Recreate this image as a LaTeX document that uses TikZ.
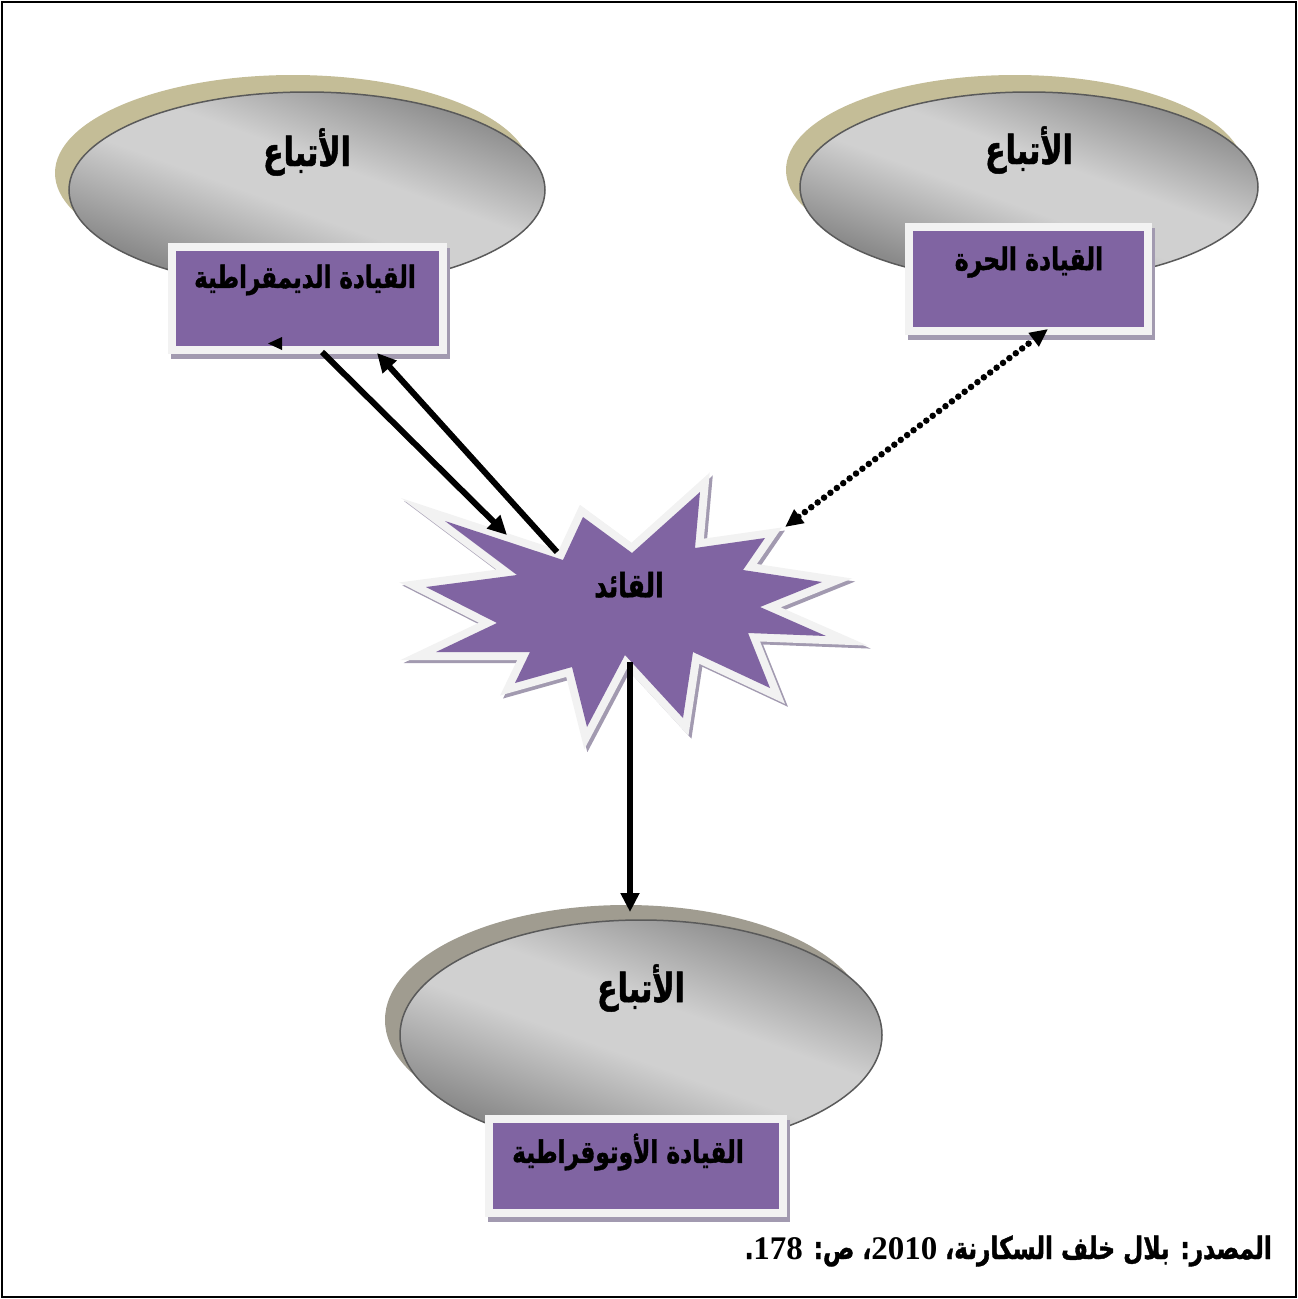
\documentclass[tikz,border=0pt]{standalone}
\usepackage{fontspec}
\newfontfamily\arabicfont[Script=Arabic, FakeStretch=0.75, BoldFeatures={FakeBold=1.2}]{DejaVu Sans}
\newfontfamily\numfont{Liberation Serif}
\TeXXeTstate=1
\usetikzlibrary{arrows.meta,shapes.geometric,shadows}

\definecolor{violetfill}{HTML}{8064A2}
\definecolor{framewhite}{HTML}{F2F2F2}
\definecolor{boxshade}{HTML}{A29AB0}
\definecolor{tanshade}{HTML}{C4BD97}
\definecolor{greyshade}{HTML}{A09C90}
\definecolor{discdark}{HTML}{8A8A8A}
\definecolor{disclight}{HTML}{D0D0D0}
\definecolor{discline}{HTML}{5A5A5A}

% grey sheen used on the follower discs
\pgfdeclareverticalshading{discsheen}{100bp}{%
  color(0bp)=(discdark); color(28bp)=(discdark); color(46bp)=(disclight);
  color(56bp)=(disclight); color(74bp)=(discdark); color(100bp)=(discdark)}

\tikzset{
  disc/.style={ellipse, inner sep=0pt, draw=discline, line width=1.5pt,
    shading=discsheen, shading angle=-20},
  tanshadow/.style={general shadow={fill=tanshade, shadow xshift=-14pt, shadow yshift=17pt}},
  greyshadow/.style={general shadow={fill=greyshade, shadow xshift=-15pt, shadow yshift=15pt}},
  stylebox/.style={rectangle, inner sep=0pt, fill=violetfill, draw=framewhite,
    line width=8pt,
    general shadow={fill=boxshade, draw=boxshade, line width=8pt,
      shadow xshift=3pt, shadow yshift=-5pt}},
  arfont/.style={inner sep=0pt, font=\arabicfont\bfseries\fontsize{#1}{#1}\selectfont},
  link/.style={line width=6pt, -{Triangle[length=19pt,width=18pt]}},
  dotlink/.style={line width=6.5pt, line cap=round, dash pattern=on 0pt off 8pt,
    {Triangle[length=18pt,width=16pt]}-{Triangle[length=18pt,width=16pt]}},
}

% outline of the leader burst
\def\burst{(700,492) -- (695,548) -- (765,538) -- (743,570) -- (822,582) --
  (760,607) -- (826,636) -- (748,633) -- (770,688) -- (693,652) -- (683,718) --
  (625,655) -- (587,727) -- (572,667) -- (515,683) -- (530,652) -- (436,652) --
  (497,623) -- (426,587) -- (517,575) -- (445,521) -- (563,560) -- (583,517) --
  (632,553) -- cycle}

\begin{document}
\begin{tikzpicture}[x=1pt, y=-1pt]
\useasboundingbox (0,0) rectangle (1298,1299);
\draw[line width=1.5pt] (2,2) rectangle (1296,1297);

% follower groups
\node[disc, tanshadow, minimum width=476pt, minimum height=196pt] (fol1) at (307,190) {};
\node[disc, tanshadow, minimum width=458pt, minimum height=190pt] (fol2) at (1029,187) {};
\node[disc, greyshadow, minimum width=482pt, minimum height=230pt] (fol3) at (641,1035) {};

\node[arfont=40] (fol1t) at (307,152) {\beginR الأتباع\endR};
\node[arfont=40] (fol2t) at (1029,150) {\beginR الأتباع\endR};
\node[arfont=40] (fol3t) at (641,988) {\beginR الأتباع\endR};

% leadership styles
\node[stylebox, minimum width=271pt, minimum height=103pt] (demo) at (307.5,298.5) {};
\node[stylebox, minimum width=239pt, minimum height=104pt] (free) at (1028.5,279) {};
\node[stylebox, minimum width=294pt, minimum height=94pt] (auto) at (636,1166) {};

\node[arfont=30.6] (demot) at (305,280) {\beginR القيادة الديمقراطية\endR};
\node[arfont=31.3] (freet) at (1029,262) {\beginR القيادة الحرة\endR};
\node[arfont=31] (autot) at (628,1152) {\beginR القيادة الأوتوقراطية\endR};

% the leader
\draw[draw=boxshade, line width=16pt, miter limit=12, xshift=3pt, yshift=-3pt] \burst;
\draw[draw=framewhite, line width=16pt, miter limit=12] \burst;
\fill[violetfill] \burst;
\node[arfont=33.5] (leader) at (629,585) {\beginR القائد\endR};

% connector ends
\coordinate (demoOut) at (322,352);
\coordinate (leaderIn) at (507,535);
\coordinate (leaderOut) at (557,552);
\coordinate (demoIn) at (377,353);
\coordinate (freeEnd) at (1048,329);
\coordinate (leaderFree) at (785,527);
\coordinate (leaderDown) at (630,662);
\coordinate (autoIn) at (630,912);

\draw[link] (demoOut) -- (leaderIn);
\draw[link] (leaderOut) -- (demoIn);
\draw[dotlink] (leaderFree) -- (freeEnd);
\draw[link] (leaderDown) -- (autoIn);

% lone arrow tip inside the democratic box
\fill (268,343.5) -- (282,337) -- (282,350) -- cycle;

% source line
\node[arfont=31, anchor=east] (src) at (1272,1251)
  {\beginR المصدر: بلال خلف السكارنة، \beginL{\numfont\bfseries\fontsize{33}{33}\selectfont 2010}\endL، ص: \beginL{\numfont\bfseries\fontsize{33}{33}\selectfont 178}\endL.\endR};
\end{tikzpicture}
\end{document}
